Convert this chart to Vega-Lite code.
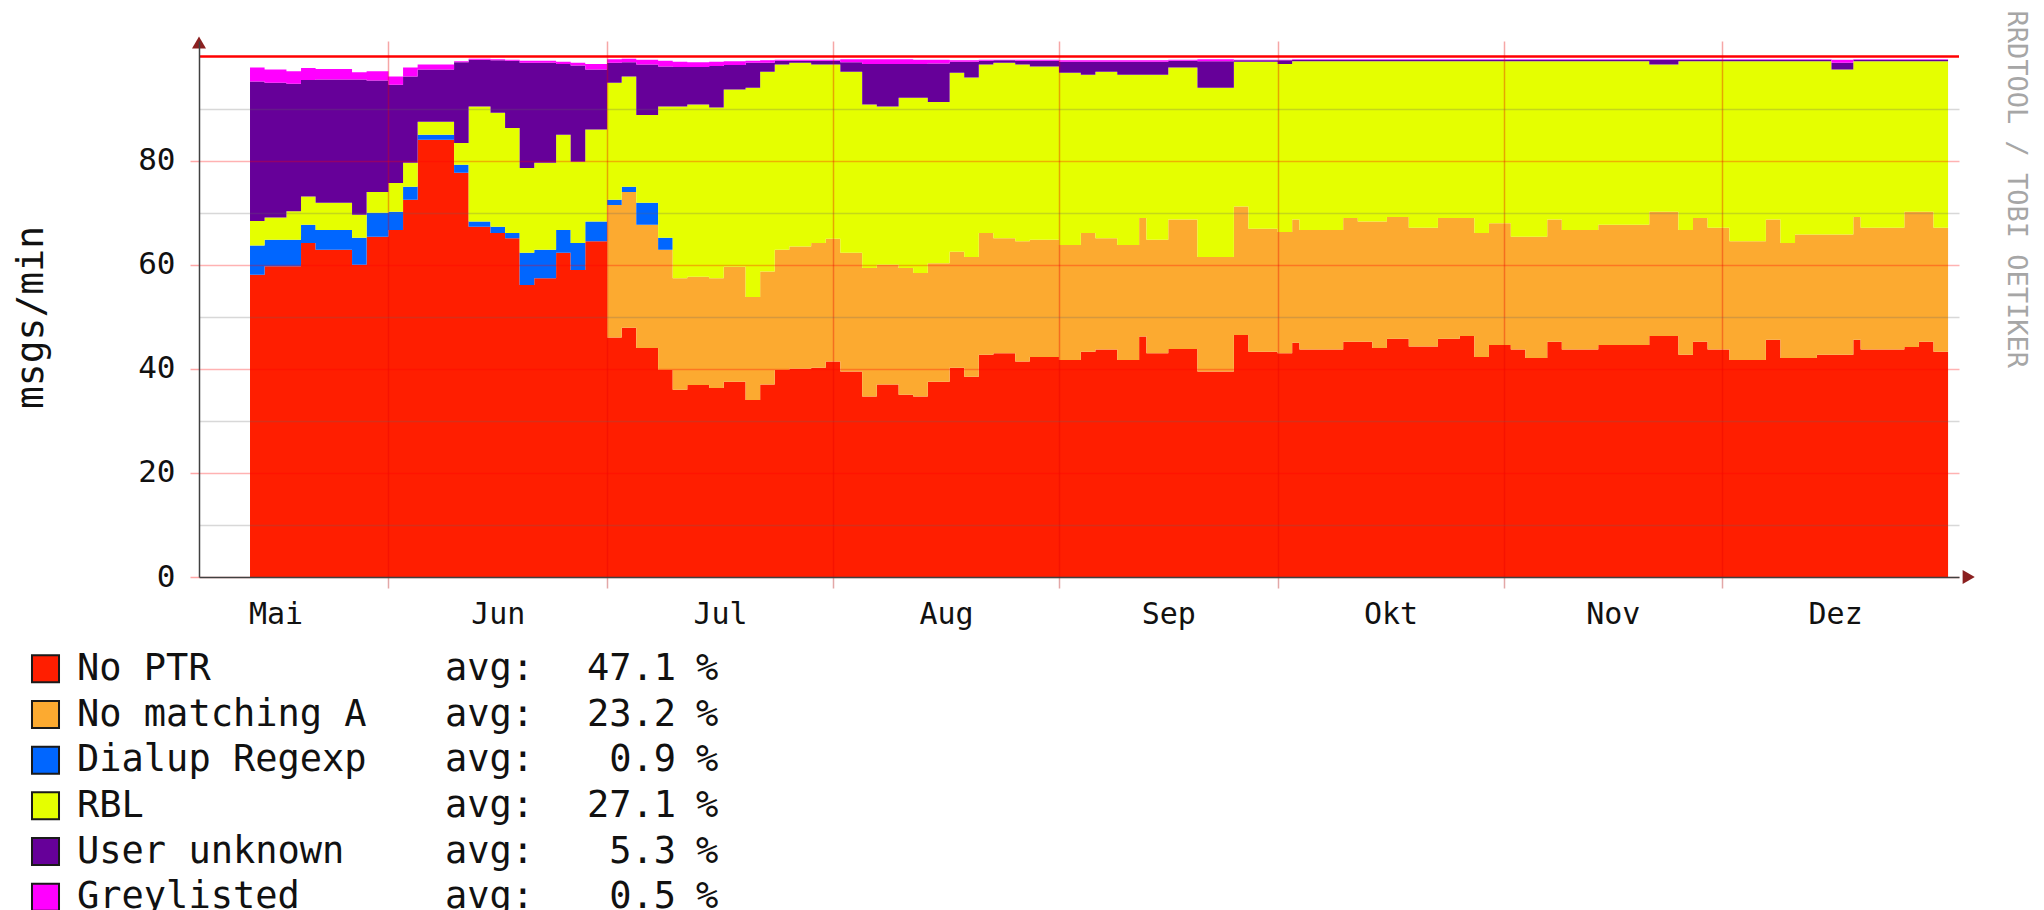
{
  "$schema": "https://vega.github.io/schema/vega-lite/v6.json",
  "background": "white",
  "padding": {"left": 12, "top": 10, "right": 5, "bottom": 0},
  "bounds": "flush",
  "spacing": 69,
  "config": {"view": {"stroke": null}, "font": "DejaVu Sans Mono"},
  "datasets": {
    "main": [
      {"date":"2006-05-13","p":58.1,"a":0,"d":5.6,"r":4.7,"u":26.8,"g":2.7},
      {"date":"2006-05-15","p":59.7,"a":0,"d":5.1,"r":4.3,"u":25.9,"g":2.5},
      {"date":"2006-05-18","p":59.7,"a":0,"d":5.1,"r":5.5,"u":24.5,"g":2.4},
      {"date":"2006-05-20","p":64.2,"a":0,"d":3.5,"r":5.4,"u":22.4,"g":2.3},
      {"date":"2006-05-22","p":62.9,"a":0,"d":3.8,"r":5.2,"u":23.7,"g":2.0},
      {"date":"2006-05-27","p":60.0,"a":0,"d":5.2,"r":4.4,"u":26.0,"g":1.4},
      {"date":"2006-05-29","p":65.4,"a":0,"d":4.6,"r":4.0,"u":21.4,"g":1.8},
      {"date":"2006-06-01","p":66.7,"a":0,"d":3.5,"r":5.5,"u":18.9,"g":1.6},
      {"date":"2006-06-03","p":72.5,"a":0,"d":2.5,"r":4.6,"u":16.6,"g":1.7},
      {"date":"2006-06-05","p":84.0,"a":0,"d":1.0,"r":2.5,"u":10.0,"g":1.0},
      {"date":"2006-06-10","p":77.7,"a":0,"d":1.5,"r":4.2,"u":15.5,"g":0.2},
      {"date":"2006-06-12","p":67.3,"a":0,"d":1.0,"r":22.1,"u":9.0,"g":0.2},
      {"date":"2006-06-15","p":66.1,"a":0,"d":1.2,"r":21.9,"u":10.1,"g":0.2},
      {"date":"2006-06-17","p":65.1,"a":0,"d":1.0,"r":20.2,"u":12.9,"g":0.2},
      {"date":"2006-06-19","p":56.1,"a":0,"d":6.2,"r":16.3,"u":20.2,"g":0.4},
      {"date":"2006-06-21","p":57.4,"a":0,"d":5.5,"r":16.7,"u":19.2,"g":0.4},
      {"date":"2006-06-24","p":62.3,"a":0,"d":4.4,"r":18.3,"u":13.6,"g":0.4},
      {"date":"2006-06-26","p":59.0,"a":0,"d":5.2,"r":15.6,"u":18.5,"g":0.5},
      {"date":"2006-06-28","p":64.5,"a":0,"d":3.8,"r":17.7,"u":11.5,"g":1.1},
      {"date":"2006-07-01","p":46.0,"a":25.5,"d":1.0,"r":22.5,"u":3.8,"g":0.7},
      {"date":"2006-07-03","p":47.9,"a":26.1,"d":1.0,"r":21.2,"u":2.7,"g":0.7},
      {"date":"2006-07-05","p":44.0,"a":23.7,"d":4.2,"r":16.9,"u":9.7,"g":0.9},
      {"date":"2006-07-08","p":39.8,"a":23.1,"d":2.3,"r":25.2,"u":7.7,"g":1.1},
      {"date":"2006-07-10","p":36.0,"a":21.4,"d":0,"r":33.0,"u":7.6,"g":1.0},
      {"date":"2006-07-12","p":36.9,"a":20.8,"d":0,"r":33.1,"u":7.2,"g":0.9},
      {"date":"2006-07-15","p":36.3,"a":21.1,"d":0,"r":32.8,"u":8.0,"g":0.8},
      {"date":"2006-07-17","p":37.5,"a":22.1,"d":0,"r":34.1,"u":4.7,"g":0.7},
      {"date":"2006-07-20","p":34.0,"a":19.8,"d":0,"r":40.2,"u":4.8,"g":0.4},
      {"date":"2006-07-22","p":37.0,"a":21.7,"d":0,"r":38.4,"u":1.7,"g":0.5},
      {"date":"2006-07-24","p":39.8,"a":23.1,"d":0,"r":35.6,"u":0.7,"g":0.2},
      {"date":"2006-07-26","p":40.0,"a":23.5,"d":0,"r":35.3,"u":0.4,"g":0.2},
      {"date":"2006-07-29","p":40.2,"a":24.0,"d":0,"r":34.3,"u":0.7,"g":0.2},
      {"date":"2006-07-31","p":41.4,"a":23.6,"d":0,"r":33.5,"u":0.7,"g":0.2},
      {"date":"2006-08-02","p":39.5,"a":22.8,"d":0,"r":34.8,"u":1.8,"g":0.6},
      {"date":"2006-08-05","p":34.7,"a":24.7,"d":0,"r":31.4,"u":7.8,"g":0.9},
      {"date":"2006-08-07","p":37.0,"a":23.0,"d":0,"r":30.4,"u":8.2,"g":0.9},
      {"date":"2006-08-10","p":35.0,"a":24.4,"d":0,"r":32.7,"u":6.5,"g":0.9},
      {"date":"2006-08-12","p":34.7,"a":23.7,"d":0,"r":33.7,"u":6.5,"g":0.8},
      {"date":"2006-08-14","p":37.5,"a":22.8,"d":0,"r":31.0,"u":7.4,"g":0.7},
      {"date":"2006-08-17","p":40.2,"a":22.3,"d":0,"r":34.4,"u":2.1,"g":0.3},
      {"date":"2006-08-19","p":38.5,"a":23.0,"d":0,"r":34.5,"u":3.0,"g":0.3},
      {"date":"2006-08-21","p":42.7,"a":23.4,"d":0,"r":32.4,"u":0.7,"g":0.2},
      {"date":"2006-08-23","p":43.0,"a":22.1,"d":0,"r":33.7,"u":0.5,"g":0.1},
      {"date":"2006-08-26","p":41.4,"a":23.1,"d":0,"r":34.0,"u":0.7,"g":0.2},
      {"date":"2006-08-28","p":42.3,"a":22.5,"d":0,"r":33.3,"u":1.1,"g":0.2},
      {"date":"2006-09-01","p":41.7,"a":22.1,"d":0,"r":33.1,"u":2.1,"g":0.3},
      {"date":"2006-09-04","p":43.3,"a":22.8,"d":0,"r":30.4,"u":2.5,"g":0.3},
      {"date":"2006-09-06","p":43.7,"a":21.4,"d":0,"r":32.0,"u":1.9,"g":0.3},
      {"date":"2006-09-09","p":41.7,"a":22.1,"d":0,"r":32.7,"u":2.5,"g":0.3},
      {"date":"2006-09-12","p":46.2,"a":22.8,"d":0,"r":27.5,"u":2.5,"g":0.3},
      {"date":"2006-09-13","p":43.0,"a":21.8,"d":0,"r":31.7,"u":2.5,"g":0.3},
      {"date":"2006-09-16","p":43.8,"a":24.9,"d":0,"r":29.2,"u":1.3,"g":0.2},
      {"date":"2006-09-20","p":39.5,"a":22.0,"d":0,"r":32.5,"u":5.1,"g":0.4},
      {"date":"2006-09-25","p":46.5,"a":24.7,"d":0,"r":27.8,"u":0.3,"g":0.1},
      {"date":"2006-09-27","p":43.3,"a":23.6,"d":0,"r":32.1,"u":0.3,"g":0.1},
      {"date":"2006-10-01","p":43.0,"a":23.3,"d":0,"r":32.3,"u":0.7,"g":0.1},
      {"date":"2006-10-03","p":45.0,"a":23.7,"d":0,"r":30.4,"u":0.3,"g":0.1},
      {"date":"2006-10-04","p":43.7,"a":23.0,"d":0,"r":32.4,"u":0.3,"g":0.1},
      {"date":"2006-10-10","p":45.2,"a":23.8,"d":0,"r":30.1,"u":0.3,"g":0.1},
      {"date":"2006-10-12","p":45.2,"a":23.1,"d":0,"r":30.8,"u":0.3,"g":0.1},
      {"date":"2006-10-14","p":44.0,"a":24.3,"d":0,"r":30.8,"u":0.3,"g":0.1},
      {"date":"2006-10-16","p":45.8,"a":23.4,"d":0,"r":29.9,"u":0.3,"g":0.1},
      {"date":"2006-10-19","p":44.3,"a":22.8,"d":0,"r":32.0,"u":0.3,"g":0.1},
      {"date":"2006-10-23","p":45.8,"a":23.2,"d":0,"r":30.1,"u":0.3,"g":0.1},
      {"date":"2006-10-26","p":46.3,"a":22.7,"d":0,"r":30.1,"u":0.3,"g":0.1},
      {"date":"2006-10-28","p":42.3,"a":23.8,"d":0,"r":33.0,"u":0.3,"g":0.1},
      {"date":"2006-10-30","p":44.6,"a":23.4,"d":0,"r":31.1,"u":0.3,"g":0.1},
      {"date":"2006-11-02","p":43.7,"a":21.7,"d":0,"r":33.7,"u":0.3,"g":0.1},
      {"date":"2006-11-04","p":42.1,"a":23.3,"d":0,"r":33.7,"u":0.3,"g":0.1},
      {"date":"2006-11-07","p":45.2,"a":23.5,"d":0,"r":30.4,"u":0.3,"g":0.1},
      {"date":"2006-11-09","p":43.7,"a":23.0,"d":0,"r":32.4,"u":0.3,"g":0.1},
      {"date":"2006-11-14","p":44.6,"a":23.1,"d":0,"r":31.4,"u":0.3,"g":0.1},
      {"date":"2006-11-21","p":46.3,"a":23.9,"d":0,"r":28.3,"u":0.9,"g":0.1},
      {"date":"2006-11-25","p":42.7,"a":24.0,"d":0,"r":32.4,"u":0.3,"g":0.1},
      {"date":"2006-11-27","p":45.2,"a":23.8,"d":0,"r":30.1,"u":0.3,"g":0.1},
      {"date":"2006-11-29","p":43.7,"a":23.4,"d":0,"r":32.0,"u":0.3,"g":0.1},
      {"date":"2006-12-02","p":41.7,"a":22.8,"d":0,"r":34.6,"u":0.3,"g":0.1},
      {"date":"2006-12-07","p":45.6,"a":23.1,"d":0,"r":30.4,"u":0.3,"g":0.1},
      {"date":"2006-12-09","p":42.1,"a":22.1,"d":0,"r":34.9,"u":0.3,"g":0.1},
      {"date":"2006-12-11","p":42.1,"a":23.7,"d":0,"r":33.3,"u":0.3,"g":0.1},
      {"date":"2006-12-14","p":42.7,"a":23.1,"d":0,"r":33.3,"u":0.3,"g":0.1},
      {"date":"2006-12-16","p":42.7,"a":23.1,"d":0,"r":31.7,"u":1.3,"g":0.6},
      {"date":"2006-12-19","p":45.6,"a":23.6,"d":0,"r":29.9,"u":0.3,"g":0.1},
      {"date":"2006-12-20","p":43.7,"a":23.4,"d":0,"r":32.0,"u":0.3,"g":0.1},
      {"date":"2006-12-26","p":44.2,"a":26.0,"d":0,"r":28.9,"u":0.3,"g":0.1},
      {"date":"2006-12-28","p":45.2,"a":25.0,"d":0,"r":28.9,"u":0.3,"g":0.1},
      {"date":"2006-12-30","p":43.3,"a":23.8,"d":0,"r":32.0,"u":0.3,"g":0.1},
      {"date":"2007-01-01","p":43.3,"a":23.8,"d":0,"r":32.0,"u":0.3,"g":0.1}
    ],
    "avgs": [
      {"series":"No PTR","avg":47.1},
      {"series":"No matching A","avg":23.2},
      {"series":"Dialup Regexp","avg":0.9},
      {"series":"RBL","avg":27.1},
      {"series":"User unknown","avg":5.3},
      {"series":"Greylisted","avg":0.5}
    ]
  },
  "vconcat": [
    {
      "width": 1760,
      "height": 536,
      "title": {
        "text": "RRDTOOL / TOBI OETIKER",
        "orient": "right",
        "anchor": "start",
        "angle": 90,
        "baseline": "middle",
        "align": "left",
        "font": "DejaVu Sans Mono",
        "fontSize": 27,
        "fontWeight": "normal",
        "color": "#a6a6a6",
        "offset": 14,
        "dx": -26
      },
      "layer": [
        {
          "data": {"name": "main"},
          "transform": [
            {"fold": ["p", "a", "d", "r", "u", "g"], "as": ["k", "value"]},
            {"lookup": "k", "from": {"data": {"values": [
              {"k": "p", "series": "No PTR", "ord": 0},
              {"k": "a", "series": "No matching A", "ord": 1},
              {"k": "d", "series": "Dialup Regexp", "ord": 2},
              {"k": "r", "series": "RBL", "ord": 3},
              {"k": "u", "series": "User unknown", "ord": 4},
              {"k": "g", "series": "Greylisted", "ord": 5}
            ]}, "key": "k", "fields": ["series", "ord"]}}
          ],
          "mark": {"type": "area", "interpolate": "step-after"},
          "encoding": {
            "x": {
              "field": "date",
              "type": "temporal",
              "scale": {
                "type": "utc",
                "domain": [
                  {"year": 2006, "month": 5, "date": 6, "utc": true},
                  {"year": 2007, "month": 1, "date": 2, "hours": 12, "utc": true}
                ]
              },
              "axis": {
                "title": null,
                "zindex": 1,
                "values": [
                  {"year": 2006, "month": 5, "date": 16, "hours": 12, "utc": true},
                  {"year": 2006, "month": 6, "date": 1, "utc": true},
                  {"year": 2006, "month": 6, "date": 16, "utc": true},
                  {"year": 2006, "month": 7, "date": 1, "utc": true},
                  {"year": 2006, "month": 7, "date": 16, "hours": 12, "utc": true},
                  {"year": 2006, "month": 8, "date": 1, "utc": true},
                  {"year": 2006, "month": 8, "date": 16, "hours": 12, "utc": true},
                  {"year": 2006, "month": 9, "date": 1, "utc": true},
                  {"year": 2006, "month": 9, "date": 16, "utc": true},
                  {"year": 2006, "month": 10, "date": 1, "utc": true},
                  {"year": 2006, "month": 10, "date": 16, "hours": 12, "utc": true},
                  {"year": 2006, "month": 11, "date": 1, "utc": true},
                  {"year": 2006, "month": 11, "date": 16, "utc": true},
                  {"year": 2006, "month": 12, "date": 1, "utc": true},
                  {"year": 2006, "month": 12, "date": 16, "hours": 12, "utc": true}
                ],
                "labelExpr": "utcdate(datum.value) === 1 ? '' : ['Jan','Feb','Mär','Apr','Mai','Jun','Jul','Aug','Sep','Okt','Nov','Dez'][utcmonth(datum.value)]",
                "labelFont": "DejaVu Sans Mono",
                "labelFontSize": 30,
                "labelColor": "#111111",
                "labelBaseline": "alphabetic",
                "labelAlign": "center",
                "labelPadding": 35,
                "labelOverlap": false,
                "labelFlush": false,
                "labelBound": false,
                "grid": true,
                "gridColor": {"condition": {"test": "utcdate(datum.value) === 1", "value": "rgba(230,0,0,0.35)"}, "value": "rgba(0,0,0,0)"},
                "gridWidth": 1.5,
                "ticks": true,
                "tickSize": 11,
                "tickWidth": 1.5,
                "tickColor": {"condition": {"test": "utcdate(datum.value) === 1", "value": "rgba(200,80,80,0.5)"}, "value": "rgba(0,0,0,0)"},
                "domain": true,
                "domainColor": "#404040",
                "domainWidth": 1.5
              }
            },
            "y": {
              "field": "value",
              "type": "quantitative",
              "stack": "zero",
              "scale": {"domain": [0, 103], "nice": false, "zero": true},
              "axis": {
                "zindex": 1,
                "values": [0, 5, 10, 15, 20, 25, 30, 35, 40, 45, 50, 55, 60, 65, 70, 75, 80, 85, 90, 95],
                "labelExpr": "datum.value % 20 === 0 ? datum.label : ''",
                "labelFont": "DejaVu Sans Mono",
                "labelFontSize": 31,
                "labelColor": "#111111",
                "labelPadding": 15,
                "labelOverlap": false,
                "labelBound": false,
                "labelFlush": false,
                "grid": true,
                "gridColor": {"condition": {"test": "datum.value % 20 === 0", "value": "rgba(255,0,0,0.3)"}, "value": "rgba(100,100,100,0.25)"},
                "gridWidth": 1.6,
                "ticks": true,
                "tickSize": 9,
                "tickWidth": 1.5,
                "tickColor": {"condition": {"test": "datum.value % 20 === 0", "value": "rgba(255,0,0,0.35)"}, "value": "rgba(0,0,0,0)"},
                "domain": true,
                "domainColor": "#404040",
                "domainWidth": 1.5,
                "title": "msgs/min",
                "titleFont": "DejaVu Sans Mono",
                "titleFontSize": 38,
                "titleFontWeight": "normal",
                "titleColor": "#111111",
                "titleAngle": 270,
                "titleAlign": "center",
                "titleBaseline": "alphabetic",
                "titleX": -157,
                "titleY": 276
              }
            },
            "color": {
              "field": "series",
              "type": "nominal",
              "scale": {
                "domain": ["No PTR", "No matching A", "Dialup Regexp", "RBL", "User unknown", "Greylisted"],
                "range": ["#ff1e00", "#fcaa30", "#0066ff", "#e5ff00", "#660099", "#ff00ff"]
              },
              "legend": null
            },
            "order": {"field": "ord", "type": "quantitative"}
          }
        },
        {
          "data": {"values": [{}]},
          "mark": {"type": "rule", "color": "#ff0000", "strokeWidth": 2.5},
          "encoding": {"y": {"datum": 100, "type": "quantitative"}}
        },
        {
          "data": {"values": [{}]},
          "mark": {"type": "point", "shape": "triangle-up", "filled": true, "size": 196, "color": "#8b2020", "opacity": 1},
          "encoding": {
            "x": {"datum": {"year": 2006, "month": 5, "date": 6, "utc": true}, "type": "temporal"},
            "y": {"datum": 102.7, "type": "quantitative"}
          }
        },
        {
          "data": {"values": [{}]},
          "mark": {"type": "point", "shape": "triangle-right", "filled": true, "size": 196, "color": "#8b2020", "opacity": 1},
          "encoding": {
            "x": {"datum": {"year": 2007, "month": 1, "date": 3, "hours": 20, "utc": true}, "type": "temporal"},
            "y": {"datum": 0, "type": "quantitative"}
          }
        }
      ]
    },
    {
      "width": 1760,
      "height": 274,
      "data": {"name": "avgs"},
      "encoding": {
        "y": {
          "field": "series",
          "type": "nominal",
          "sort": ["No PTR", "No matching A", "Dialup Regexp", "RBL", "User unknown", "Greylisted"],
          "scale": {"type": "point", "padding": 0.5},
          "axis": null
        }
      },
      "layer": [
        {
          "mark": {"type": "square", "size": 730, "filled": true, "stroke": "#1a1a1a", "strokeWidth": 2, "opacity": 1},
          "encoding": {
            "x": {"datum": -153.5, "type": "quantitative", "scale": {"domain": [0, 1760], "nice": false, "zero": false}, "axis": null},
            "color": {
              "field": "series",
              "type": "nominal",
              "scale": {
                "domain": ["No PTR", "No matching A", "Dialup Regexp", "RBL", "User unknown", "Greylisted"],
                "range": ["#ff1e00", "#fcaa30", "#0066ff", "#e5ff00", "#660099", "#ff00ff"]
              },
              "legend": null
            }
          }
        },
        {
          "mark": {"type": "text", "align": "left", "baseline": "middle", "font": "DejaVu Sans Mono", "fontSize": 37, "color": "#111111"},
          "encoding": {"x": {"datum": -122, "type": "quantitative"}, "text": {"field": "series"}}
        },
        {
          "mark": {"type": "text", "align": "left", "baseline": "middle", "font": "DejaVu Sans Mono", "fontSize": 37, "color": "#111111"},
          "encoding": {"x": {"datum": 246, "type": "quantitative"}, "text": {"value": "avg:"}}
        },
        {
          "mark": {"type": "text", "align": "right", "baseline": "middle", "font": "DejaVu Sans Mono", "fontSize": 37, "color": "#111111"},
          "encoding": {"x": {"datum": 477, "type": "quantitative"}, "text": {"field": "avg", "type": "quantitative", "format": ".1f"}}
        },
        {
          "mark": {"type": "text", "align": "left", "baseline": "middle", "font": "DejaVu Sans Mono", "fontSize": 37, "color": "#111111"},
          "encoding": {"x": {"datum": 497, "type": "quantitative"}, "text": {"value": "%"}}
        }
      ]
    }
  ]
}
